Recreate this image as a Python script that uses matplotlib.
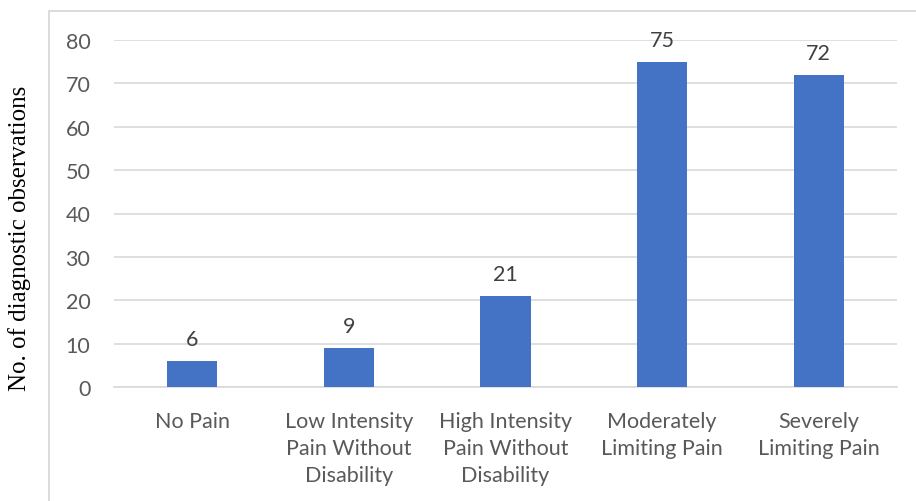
import matplotlib
matplotlib.use("Agg")
import matplotlib.pyplot as plt
from matplotlib.patches import Rectangle

categories = ["No Pain", "Low Intensity\nPain Without\nDisability", "High Intensity\nPain Without\nDisability",
              "Moderately\nLimiting Pain", "Severely\nLimiting Pain"]
values = [6, 9, 21, 75, 72]
yticks = [0, 10, 20, 30, 40, 50, 60, 70, 80]

W, H = 916, 502
fig = plt.figure(figsize=(W/100, H/100), dpi=100)
ax = fig.add_axes([114/W, 1-388/H, (897-114)/W, (388-41)/H])

# outer chart border (partially visible)
fig.patches.append(Rectangle((49/W, -0.1), 1.2, (1-12/H)+0.1, transform=fig.transFigure,
                             fill=False, edgecolor="#D9D9D9", linewidth=1.3))

x = range(len(categories))
bars = ax.bar(x, values, width=0.32, color="#4472C4", zorder=3)
for xi, v in zip(x, values):
    ax.annotate(str(v), (xi, v), xytext=(0, 8.5), textcoords="offset points",
                ha="center", va="bottom", fontsize=15.5, color="#404040", family="Lato")

ax.set_ylim(0, 80)
ax.set_xlim(-0.5, len(categories)-0.5)
ax.set_yticks(yticks)
ax.set_xticks(list(x))
ax.set_xticklabels(categories, fontsize=15.5, color="#595959", family="Lato", linespacing=1.45)
ax.tick_params(axis="y", labelsize=15.5, labelcolor="#595959", length=0, pad=17)
ax.tick_params(axis="x", length=0, pad=17)
for t in ax.get_yticklabels():
    t.set_family("Lato")
ax.grid(axis="y", color="#D9D9D9", linewidth=1.2, zorder=0)
for s in ["top", "right", "left"]:
    ax.spines[s].set_visible(False)
ax.spines["bottom"].set_color("#D9D9D9")
ax.spines["bottom"].set_linewidth(1.2)

fig.text(20/W, 1-238/H, "No. of diagnostic observations", rotation=90, ha="center", va="center",
         family="Liberation Serif", fontsize=18, color="#000000")

fig.savefig("out.png", dpi=100)
